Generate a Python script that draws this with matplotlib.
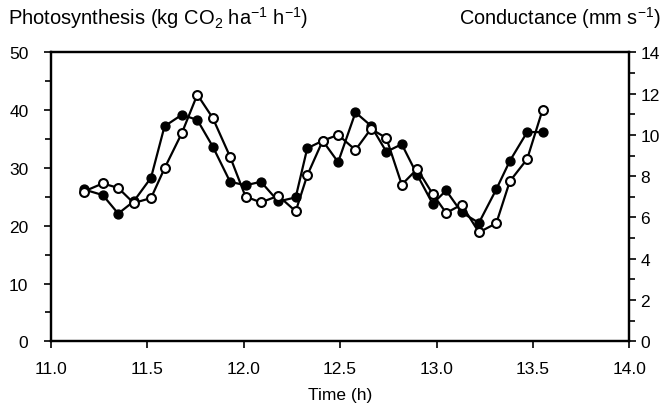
import matplotlib
matplotlib.use("Agg")
import matplotlib.pyplot as plt
from matplotlib.ticker import MultipleLocator

plt.rcParams['font.family'] = ['Liberation Sans', 'DejaVu Sans']
plt.rcParams['mathtext.fontset'] = 'custom'
plt.rcParams['mathtext.rm'] = 'Liberation Sans'
plt.rcParams['mathtext.it'] = 'Liberation Sans'
plt.rcParams['mathtext.default'] = 'regular'

# Sampling times (h)
time_h = [11.17, 11.27, 11.35, 11.43, 11.52, 11.59, 11.68, 11.76, 11.84, 11.93,
          12.01, 12.09, 12.18, 12.27, 12.33, 12.41, 12.49, 12.58, 12.66, 12.74,
          12.82, 12.90, 12.98, 13.05, 13.13, 13.22, 13.31, 13.38, 13.47, 13.55]

# Canopy photosynthesis (kg CO2 ha-1 h-1), filled circles
photosynthesis = [26.3, 25.3, 22.1, 24.2, 28.3, 37.2, 39.2, 38.3, 33.7, 27.6,
                  27.0, 27.6, 24.2, 24.9, 33.4, 34.7, 31.0, 39.6, 37.3, 32.8,
                  34.1, 28.8, 23.8, 26.1, 22.3, 20.5, 26.3, 31.2, 36.2, 36.2]

# Stomatal conductance (mm s-1), open circles
conductance = [7.25, 7.65, 7.43, 6.70, 6.94, 8.38, 10.09, 11.95, 10.82, 8.94,
               7.01, 6.73, 7.05, 6.30, 8.04, 9.72, 10.00, 9.27, 10.29, 9.85,
               7.59, 8.35, 7.14, 6.22, 6.62, 5.28, 5.72, 7.75, 8.83, 11.22]

x_ticks = [11.0, 11.5, 12.0, 12.5, 13.0, 13.5, 14.0]
left_ticks = [0, 10, 20, 30, 40, 50]
right_ticks = [0, 2, 4, 6, 8, 10, 12, 14]

fig = plt.figure(figsize=(6.69, 4.10), dpi=100)
ax1 = fig.add_axes([0.0758, 0.165, 0.865, 0.705])
ax2 = ax1.twinx()

ax1.plot(time_h, photosynthesis, color='black', lw=1.6, marker='o',
         markersize=6.4, markerfacecolor='black', markeredgecolor='black',
         zorder=3)
ax2.plot(time_h, conductance, color='black', lw=1.6, marker='o',
         markersize=6.4, markerfacecolor='white', markeredgecolor='black',
         markeredgewidth=1.5, zorder=3)

ax1.set_xlim(11.0, 14.0)
ax1.set_ylim(0, 50)
ax2.set_ylim(0, 14)

ax1.set_xticks(x_ticks)
ax1.set_xticklabels([f"{t:.1f}" for t in x_ticks])
ax1.set_yticks(left_ticks)
ax1.yaxis.set_minor_locator(MultipleLocator(5))
ax2.set_yticks(right_ticks)
ax2.yaxis.set_minor_locator(MultipleLocator(1))

for ax in (ax1, ax2):
    for sp in ax.spines.values():
        sp.set_linewidth(1.6)
    ax.tick_params(which='both', direction='out', width=1.2, labelsize=12.5,
                   colors='black')
    ax.tick_params(which='major', length=5, pad=3)
    ax.tick_params(which='minor', length=4)

ax1.tick_params(axis='x', length=5, pad=9)
ax1.tick_params(axis='y', which='major', pad=11)

ax1.set_xlabel("Time (h)", fontsize=12.5, labelpad=8)

fig.text(0.012, 0.955, r"Photosynthesis (kg CO$_2$ ha$^{-1}$ h$^{-1}$)",
         fontsize=14.5, ha='left', va='center')
fig.text(0.988, 0.955, r"Conductance (mm s$^{-1}$)",
         fontsize=14.3, ha='right', va='center')

fig.savefig("out.png", dpi=100)
